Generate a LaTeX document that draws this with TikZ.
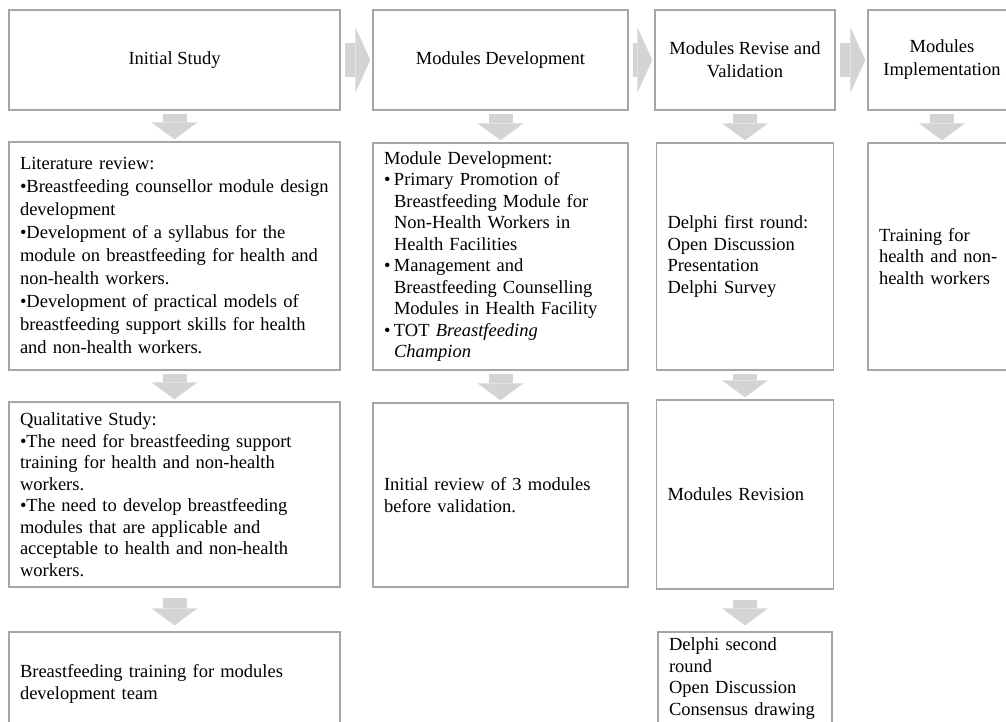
\documentclass[tikz,border=0pt]{standalone}
\usepackage{fontspec}
\setmainfont{Liberation Serif}
\usetikzlibrary{arrows.meta}

\definecolor{boxgray}{HTML}{A6A6A6}
\definecolor{arrowgray}{HTML}{D4D4D4}

\newcommand\bul{\makebox[10pt][l]{•}}
\newcommand\itemind{\hspace*{10pt}}

\tikzset{
  headbox/.style={draw=boxgray, line width=1.3pt, align=center,
    font=\fontsize{18.5pt}{23pt}\selectfont},
  textbox/.style={draw=boxgray, line width=1.3pt, align=left, inner xsep=11pt,
    font=\fontsize{18.5pt}{21.5pt}\selectfont},
  widelines/.style={font=\fontsize{18.5pt}{23pt}\selectfont},
  flowright/.style={draw=arrowgray, line width=34pt,
    -{Triangle[length=15pt,width=66pt,line width=0pt]},
    shorten <=4pt, shorten >=2pt},
  flowdown/.style={draw=arrowgray, line width=24pt,
    -{Triangle[length=17pt,width=46pt,line width=0pt]},
    shorten <=3pt, shorten >=2pt},
  longgap/.style={shorten <=10pt, shorten >=6pt}
}

\begin{document}
\begin{tikzpicture}[x=1pt,y=1pt]
    \useasboundingbox (0,0) rectangle (1006,-722);
    \clip (0,0) rectangle (1006,-722);

    % stage headers
    \node[headbox, minimum width=331pt, minimum height=100pt] (init) at (174.5,-60) {Initial Study};
    \node[headbox, minimum width=255pt, minimum height=100pt] (moddev) at (500.5,-60) {Modules Development};
    \node[headbox, minimum width=180pt, minimum height=100pt] (revise) at (745,-60) {Modules Revise and\\Validation};
    \node[headbox, minimum width=148pt, minimum height=100pt] (impl) at (942,-60) {Modules\\Implementation};

    % first column
    \node[textbox, widelines, text width=309pt, minimum height=228pt] (litrev) at (174.5,-256) {Literature review:\\
        •Breastfeeding counsellor module design\\
        development\\
        •Development of a syllabus for the\\
        module on breastfeeding for health and\\
        non-health workers.\\
        •Development of practical models of\\
        breastfeeding support skills for health\\
        and non-health workers.};
    \node[textbox, text width=309pt, minimum height=185pt] (qual) at (174.5,-494.5) {Qualitative Study:\\
        •The need for breastfeeding support\\
        training for health and non-health\\
        workers.\\
        •The need to develop breastfeeding\\
        modules that are applicable and\\
        acceptable to health and non-health\\
        workers.};
    \node[textbox, text width=309pt, minimum height=104pt] (bftrain) at (174.5,-684) {Breastfeeding training for modules\\
        development team};

    % second column
    \node[textbox, text width=233pt, minimum height=227pt] (modlist) at (500.5,-256.5) {Module Development:\\
        \bul Primary Promotion of\\
        \itemind Breastfeeding Module for\\
        \itemind Non-Health Workers in\\
        \itemind Health Facilities\\
        \bul Management and\\
        \itemind Breastfeeding Counselling\\
        \itemind Modules in Health Facility\\
        \bul TOT \textit{Breastfeeding}\\
        \itemind\textit{Champion}};
    \node[textbox, text width=233pt, minimum height=184pt] (review) at (500.5,-495) {Initial review of 3 modules\\
        before validation.};

    % third column
    \node[textbox, text width=155pt, minimum height=227pt] (delphi1) at (745,-256.5) {Delphi first round:\\
        Open Discussion\\
        Presentation\\
        Delphi Survey};
    \node[textbox, text width=155pt, minimum height=189pt] (revision) at (745,-494.5) {Modules Revision};
    \node[textbox, text width=152pt, minimum height=93pt] (delphi2) at (745,-678.5) {Delphi second\\
        round\\
        Open Discussion\\
        Consensus drawing};

    % fourth column
    \node[textbox, text width=126pt, minimum height=227pt] (training) at (942,-256.5) {Training for\\
        health and non-\\
        health workers};

    % arrows between stages
    \draw[flowright] (init) -- (moddev);
    \draw[flowright] (moddev) -- (revise);
    \draw[flowright] (revise) -- (impl);

    % arrows down the columns
    \draw[flowdown] (init) -- (litrev);
    \draw[flowdown] (litrev) -- (qual);
    \draw[flowdown, longgap] (qual) -- (bftrain);
    \draw[flowdown] (moddev) -- (modlist);
    \draw[flowdown] (modlist) -- (review);
    \draw[flowdown] (revise) -- (delphi1);
    \draw[flowdown] (delphi1) -- (revision);
    \draw[flowdown, longgap] (revision) -- (delphi2);
    \draw[flowdown] (impl) -- (training);
\end{tikzpicture}
\end{document}
